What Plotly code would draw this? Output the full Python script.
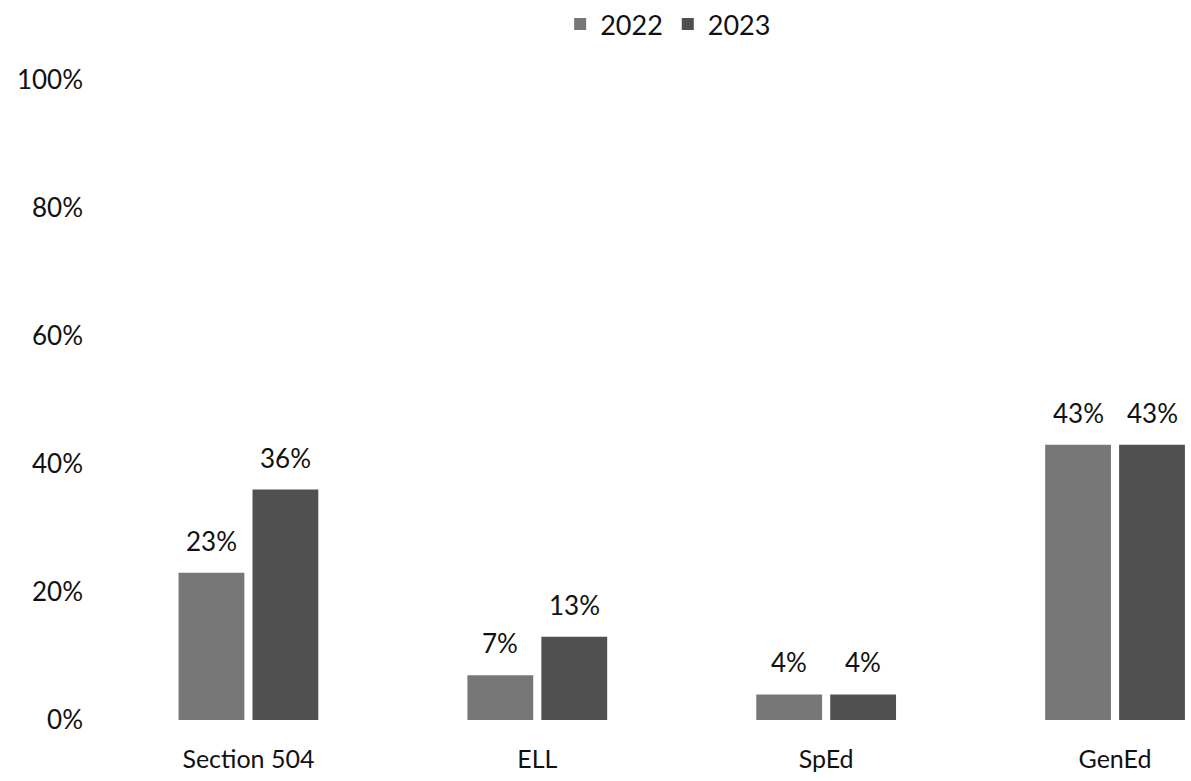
import plotly.graph_objects as go

categories = ["Section 504", "ELL", "SpEd", "GenEd"]
values_2022 = [23, 7, 4, 43]
values_2023 = [36, 13, 4, 43]
y_ticks = [0, 20, 40, 60, 80, 100]

FONT = "Lato, Calibri, sans-serif"
TEXT = "#111111"
BARGAP = 0.488
SLOT = (1 - BARGAP) / 2  # width of one series slot inside a group, in category units

series = [
    ("2022", values_2022, "#777777"),
    ("2023", values_2023, "#505050"),
]

fig = go.Figure()
for name, vals, color in series:
    fig.add_trace(go.Bar(
        name=name,
        x=categories,
        y=vals,
        marker=dict(color=color, line=dict(width=0)),
        cliponaxis=False,
    ))

# value labels placed above each bar of the group
for k, (name, vals, color) in enumerate(series):
    offset = (k - 0.5) * SLOT
    for i, v in enumerate(vals):
        fig.add_annotation(
            x=i + offset, y=v, xref="x", yref="y",
            text=f"{v}%", showarrow=False,
            yanchor="bottom", yshift=14,
            font=dict(family=FONT, size=26, color=TEXT),
        )

fig.update_layout(
    width=1191,
    height=781,
    margin=dict(l=104, r=0, t=80, b=61, autoexpand=False),
    paper_bgcolor="white",
    plot_bgcolor="white",
    barmode="group",
    bargap=BARGAP,
    bargroupgap=0.11,
    font=dict(family=FONT, size=24, color=TEXT),
    legend=dict(
        orientation="h",
        x=0.519, xanchor="center",
        y=1.0, yref="container", yanchor="top",
        font=dict(family=FONT, size=27, color=TEXT),
        itemwidth=30,
    ),
    xaxis=dict(
        range=[-0.5, 3.263],
        showgrid=False,
        showline=False,
        zeroline=False,
        ticks="",
        ticklabelstandoff=22,
        tickfont=dict(family=FONT, size=25, color=TEXT),
    ),
    yaxis=dict(
        range=[0, 100],
        tickvals=y_ticks,
        ticktext=[f"{v}%" for v in y_ticks],
        showgrid=False,
        showline=False,
        zeroline=False,
        ticks="",
        ticklabelstandoff=20,
        tickfont=dict(family=FONT, size=26, color=TEXT),
    ),
)

fig.write_html("out.html")
